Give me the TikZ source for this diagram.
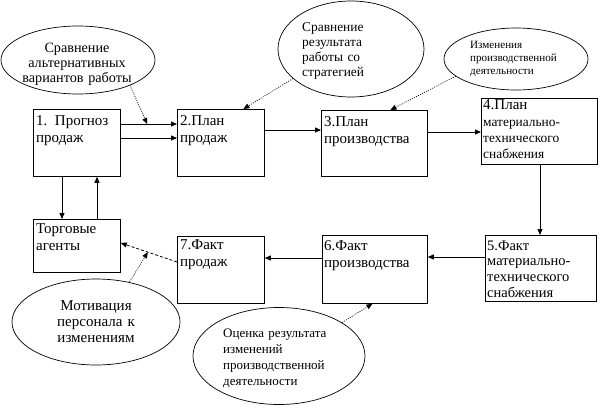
\documentclass[tikz,border=0pt]{standalone}
\usepackage{fontspec}
\setmainfont{Liberation Serif}
\usetikzlibrary{arrows.meta,shapes.geometric}
\begin{document}
\begin{tikzpicture}[x=1pt,y=-1pt,
  box/.style={draw,line width=0.8pt,inner sep=0pt,anchor=north west},
  oval/.style={draw,ellipse,line width=0.7pt,inner sep=0pt},
  ltxt/.style={inner sep=0pt,anchor=base west,align=left,text width=#1},
  ctxt/.style={inner sep=0pt,anchor=base,align=center,text width=#1},
  fbig/.style={font=\fontsize{15}{17}\selectfont},
  arr/.style={line width=0.8pt,-{Triangle[length=6pt,width=5pt]}},
  dotarr/.style={line width=0.7pt,dash pattern=on 1pt off 1.3pt,-{Triangle[length=6pt,width=5pt]}},
  dasharr/.style={line width=0.8pt,dash pattern=on 3pt off 2pt,-{Triangle[length=6pt,width=5pt]}}
]
\useasboundingbox (0,0) rectangle (599,407);

% boxes
\node[box,minimum width=87pt,minimum height=67pt] (b1) at (33,109) {};
\node[box,minimum width=87pt,minimum height=67pt] (b2) at (177,109) {};
\node[box,minimum width=106pt,minimum height=66pt] (b3) at (321,110) {};
\node[box,minimum width=116pt,minimum height=66pt] (b4) at (481,98) {};
\node[box,minimum width=111pt,minimum height=66pt] (b5) at (485,235) {};
\node[box,minimum width=105pt,minimum height=68pt] (b6) at (322,235) {};
\node[box,minimum width=87pt,minimum height=67pt] (b7) at (177,236) {};
\node[box,minimum width=87pt,minimum height=53pt] (b8) at (33,219) {};

% box texts
\node[ltxt=84pt,fbig] (tb1) at (36,125) {1. Прогноз\\продаж};
\node[ltxt=84pt,fbig] (tb2) at (180,125) {2.План\\продаж};
\node[ltxt=100pt,fbig] (tb3) at (324,126) {3.План\\производства};
\node[ltxt=112pt,font=\fontsize{15}{17}\selectfont] (tb4) at (483,109) {4.План};
\node[ltxt=112pt,font=\fontsize{13.4}{16.3}\selectfont] (tb4b) at (483,126) {материально-\\технического\\снабжения};
\node[ltxt=108pt,font=\fontsize{14.5}{15.7}\selectfont] (tb5) at (487,250) {5.Факт\\материально-\\технического\\снабжения};
\node[ltxt=100pt,fbig] (tb6) at (324,250) {6.Факт\\производства};
\node[ltxt=84pt,font=\fontsize{15}{17.5}\selectfont] (tb7) at (180,249) {7.Факт\\продаж};
\node[ltxt=84pt,fbig] (tb8) at (36,233) {Торговые\\агенты};

% ellipses
\node[oval,minimum width=154pt,minimum height=68pt] (e1) at (78,60) {};
\node[oval,minimum width=146pt,minimum height=96pt] (e2) at (351,49) {};
\node[oval,minimum width=144pt,minimum height=62pt] (e3) at (516,59) {};
\node[oval,minimum width=168pt,minimum height=86pt] (e4) at (96,322) {};
\node[oval,minimum width=172pt,minimum height=97pt] (e5) at (279,356) {};

% ellipse texts
\node[ctxt=150pt,font=\fontsize{14.2}{15}\selectfont] (te1) at (77,52) {Сравнение\\альтернативных\\вариантов работы};
\node[ltxt=110pt,font=\fontsize{13.4}{15.3}\selectfont] (te2) at (302,31) {Сравнение\\результата\\работы со\\стратегией};
\node[ltxt=120pt,font=\fontsize{11.1}{13.2}\selectfont] (te3) at (470,48) {Изменения\\производственной\\деятельности};
\node[ctxt=160pt,font=\fontsize{15}{16}\selectfont] (te4) at (96,310) {Мотивация\\персонала к\\изменениям};
\node[ltxt=140pt,font=\fontsize{13}{16}\selectfont] (te5) at (223,337) {Оценка результата\\изменений\\производственной\\деятельности};

% main flow
\draw[arr] (b1.east |- 0,124) -- coordinate[pos=0.47] (m1) (b2.west |- 0,124);
\draw[arr] (b1.east |- 0,138) -- (b2.west |- 0,138);
\draw[arr] (b2.east |- 0,130) -- (b3.west |- 0,130);
\draw[arr] (b3.east |- 0,132) -- (b4.west |- 0,132);
\draw[arr] (b4.south -| 540,0) -- (b5.north -| 540,0);
\draw[arr] (b5.west |- 0,257) -- (b6.east |- 0,257);
\draw[arr] (b6.west |- 0,258) -- (b7.east |- 0,258);
\draw[dasharr] (b7.west |- 0,262) -- coordinate[pos=0.52] (m4) (b8.east |- 0,243);
\draw[arr] (b1.south -| 62,0) -- (b8.north -| 62,0);
\draw[arr] (b8.north -| 97,0) -- (b1.south -| 97,0);

% dotted influences
\draw[dotarr] (e1.-26) -- (m1);
\draw[dotarr] (e2.207) -- ([xshift=22.5pt]b2.north);
\draw[dotarr] (e3.196) -- ([xshift=16pt]b3.north);
\draw[dotarr] (e4.50) -- (m4);
\draw[dotarr] (e5.28) -- ([xshift=-2.5pt]b6.south);
\end{tikzpicture}
\end{document}
